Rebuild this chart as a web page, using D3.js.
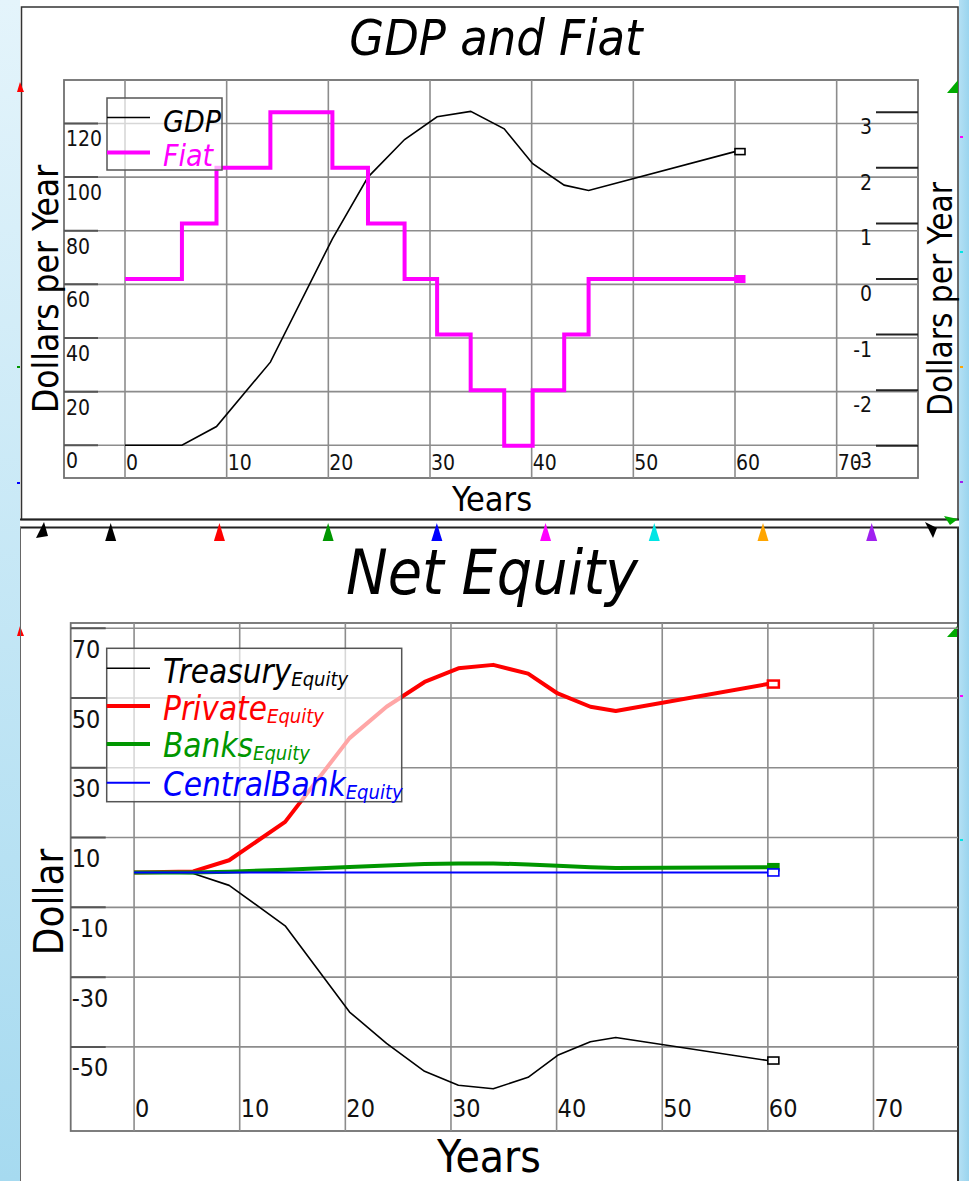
<!DOCTYPE html>
<html><head><meta charset="utf-8">
<script src="https://cdn.jsdelivr.net/npm/d3@7"></script>
<style>
html,body{margin:0;padding:0;background:#fff;}
svg{display:block;}
</style></head><body>
<svg id="c" width="969" height="1181"></svg>
<script>
// ---------- data ----------
const years = [0, 5.6, 9.0, 14.3, 20.4, 23.9, 27.5, 30.7, 34.0, 37.3, 40.1, 43.2, 45.6, 60];
const gdp = [0, 0, 7, 31, 77, 100, 114, 122.5, 124.5, 118, 105, 97, 95, 109.5];
const fiat = [0, 1, 2, 3, 2, 1, 0, -1, -2, -3, -2, -1, 0, 0];
const treasuryEquity = [0, -0.3, -3.7, -15.3, -40, -49, -57, -61, -62, -58.7, -52.4, -48.5, -47.3, -53.9];
const privateEquity = [0, 0.3, 3.5, 14.5, 38.5, 47.5, 54.6, 58.5, 59.5, 57, 51.3, 47.5, 46.3, 54.0];
const banksEquity = [0, 0, 0.2, 0.8, 1.6, 2.0, 2.4, 2.6, 2.6, 2.3, 1.9, 1.5, 1.3, 1.5];
const centralBankEquity = [0, 0, 0, 0, 0, 0, 0, 0, 0, 0, 0, 0, 0, 0];
const xTicks = [0, 10, 20, 30, 40, 50, 60, 70];
const gdpTicks = [0, 20, 40, 60, 80, 100, 120];
const fiatTicks = [-3, -2, -1, 0, 1, 2, 3];
const equityTicks = [70, 50, 30, 10, -10, -30, -50];
const equityNames = ["Treasury", "Private", "Banks", "CentralBank"];
const equityColors = ["#000000", "#ff0000", "#009600", "#0000ff"];
const equityWidths = [1.6, 4, 4, 2];
const markerColors = ["#000000", "#ff0000", "#009600", "#0000ff", "#ff00ff", "#00e5e5", "#ffa500", "#a020f0"];

const FONT = "'DejaVu Sans Condensed','DejaVu Sans',sans-serif";
const svg = d3.select("#c");

// ---------- background ----------
const defs = svg.append("defs");
const lg = defs.append("linearGradient").attr("id","bgL").attr("x1",0).attr("y1",0).attr("x2",0).attr("y2",1);
lg.append("stop").attr("offset",0).attr("stop-color","#e4f4fb");
lg.append("stop").attr("offset",1).attr("stop-color","#a6daf0");
const lgR = defs.append("linearGradient").attr("id","bgR").attr("x1",0).attr("y1",0).attr("x2",1).attr("y2",0);
lgR.append("stop").attr("offset",0).attr("stop-color","#b4e0f4");
lgR.append("stop").attr("offset",1).attr("stop-color","#9ad4ee");
svg.append("rect").attr("x",0).attr("y",0).attr("width",21).attr("height",1181).attr("fill","url(#bgL)");
svg.append("rect").attr("x",959).attr("y",0).attr("width",10).attr("height",1181).attr("fill","url(#bgR)");
svg.append("rect").attr("x",20).attr("y",0).attr("width",939).attr("height",1181).attr("fill","#ffffff");

const gridColor = "#8c8c8c";

// ================= TOP CHART =================
const T = {x0:64, x1:918, y0:80, y1:478};
const xT = d3.scaleLinear().domain([-6, 78]).range([T.x0, T.x1]);
const yL = d3.scaleLinear().domain([-12.2, 136.2]).range([T.y1, T.y0]);
const yR = d3.scaleLinear().domain([-3.58, 3.58]).range([T.y1, T.y0]);

// panel border
svg.append("rect").attr("x",21.5).attr("y",7).attr("width",936.5).attr("height",512.5)
  .attr("fill","none").attr("stroke","#333").attr("stroke-width",1.5);

const gT = svg.append("g");
gT.append("rect").attr("x",T.x0).attr("y",T.y0).attr("width",T.x1-T.x0).attr("height",T.y1-T.y0)
  .attr("fill","none").attr("stroke","#707070").attr("stroke-width",1.8);
gT.selectAll(".hg").data(gdpTicks).join("line")
  .attr("x1",T.x0).attr("x2",T.x1).attr("y1",d=>yL(d)).attr("y2",d=>yL(d))
  .attr("stroke",gridColor).attr("stroke-width",1.6);
gT.selectAll(".vg").data(xTicks).join("line")
  .attr("x1",d=>xT(d)).attr("x2",d=>xT(d)).attr("y1",T.y0).attr("y2",T.y1)
  .attr("stroke",gridColor).attr("stroke-width",1.6);
// left ticks
gT.selectAll(".lt").data(gdpTicks).join("line")
  .attr("x1",T.x0).attr("x2",T.x0+34).attr("y1",d=>yL(d)).attr("y2",d=>yL(d))
  .attr("stroke","#555").attr("stroke-width",2);
// right ticks
gT.selectAll(".rt").data(fiatTicks).join("line")
  .attr("x1",T.x1-42).attr("x2",T.x1).attr("y1",d=>yR(d)).attr("y2",d=>yR(d))
  .attr("stroke","#222").attr("stroke-width",2);
// labels
gT.selectAll(".ll").data(gdpTicks).join("text")
  .attr("x",T.x0+2).attr("y",d=>yL(d)+23).text(d=>d)
  .attr("font-family",FONT).attr("font-size",21).attr("fill","#111");
gT.selectAll(".rl").data(fiatTicks).join("text")
  .attr("x",872).attr("y",d=>yR(d)+22).attr("text-anchor","end").text(d=>d)
  .attr("font-family",FONT).attr("font-size",21).attr("fill","#111");
gT.selectAll(".xl").data(xTicks).join("text")
  .attr("x",d=>xT(d)+1).attr("y",470).text(d=>d)
  .attr("font-family",FONT).attr("font-size",21).attr("fill","#111");

// lines
const gdpPts = years.map((y,i)=>[y,gdp[i]]);
const fiatPts = years.map((y,i)=>[y,fiat[i]]);
gT.append("path").datum(gdpPts)
  .attr("d", d3.line().x(d=>xT(d[0])).y(d=>yL(d[1])))
  .attr("fill","none").attr("stroke","#000").attr("stroke-width",1.6);
gT.append("path").datum(fiatPts)
  .attr("d", d3.line().curve(d3.curveStepAfter).x(d=>xT(d[0])).y(d=>yR(d[1])))
  .attr("fill","none").attr("stroke","#ff00ff").attr("stroke-width",4);
// end markers
const lastI = years.length-1;
gT.append("rect").attr("x",xT(years[lastI])).attr("y",yL(gdp[lastI])-3).attr("width",10).attr("height",6)
  .attr("fill","#fff").attr("stroke","#000").attr("stroke-width",1.6);
gT.append("rect").attr("x",xT(years[lastI])).attr("y",yR(fiat[lastI])-3.5).attr("width",10).attr("height",7)
  .attr("fill","#ff00ff").attr("stroke","#ff00ff").attr("stroke-width",1);

// legend top
const legT = gT.append("g");
legT.append("rect").attr("x",107).attr("y",98).attr("width",115).attr("height",72)
  .attr("fill","#fff").attr("fill-opacity",0.65).attr("stroke","#555").attr("stroke-width",1.5);
legT.append("line").attr("x1",107).attr("x2",150).attr("y1",117.5).attr("y2",117.5).attr("stroke","#000").attr("stroke-width",1.6);
legT.append("line").attr("x1",107).attr("x2",150).attr("y1",152.5).attr("y2",152.5).attr("stroke","#ff00ff").attr("stroke-width",4);
legT.append("text").attr("x",163).attr("y",131.5).text("GDP").attr("font-family",FONT).attr("font-style","italic")
  .attr("font-size",30).attr("fill","#000");
legT.append("text").attr("x",163).attr("y",166).text("Fiat").attr("font-family",FONT).attr("font-style","italic")
  .attr("font-size",30).attr("fill","#ff00ff");

// titles
svg.append("text").attr("x",496).attr("y",55).attr("text-anchor","middle").text("GDP and Fiat")
  .attr("font-family",FONT).attr("font-style","italic").attr("font-size",50).attr("fill","#000");
svg.append("text").attr("x",492).attr("y",511).attr("text-anchor","middle").text("Years")
  .attr("font-family",FONT).attr("font-size",34).attr("fill","#000");
svg.append("text").attr("transform","translate(58,289) rotate(-90)").attr("text-anchor","middle").text("Dollars per Year")
  .attr("font-family",FONT).attr("font-size",35).attr("fill","#000");
svg.append("text").attr("transform","translate(952,299) rotate(-90)").attr("text-anchor","middle").text("Dollars per Year")
  .attr("font-family",FONT).attr("font-size",33).attr("fill","#000");

// ================= DIVIDER =================
svg.append("line").attr("x1",20).attr("x2",959).attr("y1",519.5).attr("y2",519.5).attr("stroke","#222").attr("stroke-width",2);
svg.append("line").attr("x1",20).attr("x2",959).attr("y1",527.5).attr("y2",527.5).attr("stroke","#222").attr("stroke-width",2);
const mx = d3.scaleLinear().domain([0,7]).range([110.7,871.7]);
svg.selectAll(".tri").data(markerColors).join("path")
  .attr("d",(c,i)=>`M${mx(i)},523 L${mx(i)-5.5},541 L${mx(i)+5.5},541 Z`)
  .attr("fill",c=>c);
// tilted corner arrows
svg.append("path").attr("d","M44,522 L36,538 L48,536 Z").attr("fill","#000");
svg.append("path").attr("d","M925,522 L933,538 L937,528 Z").attr("fill","#000");
svg.append("path").attr("d","M958,519 L944,516 L950,525 Z").attr("fill","#0a0");
svg.append("path").attr("d","M20,82 L24,92 L17,92 Z").attr("fill","#f00");
svg.append("path").attr("d","M958,80 L947,93 L958,93 Z").attr("fill","#0a0");
svg.append("path").attr("d","M20,626 L24,636 L17,636 Z").attr("fill","#f00");
svg.append("path").attr("d","M958,625 L947,637 L958,637 Z").attr("fill","#0a0");
const edgeDots = [[960,137,"#ff00ff"],[960,252,"#00e5e5"],[960,367,"#ffa500"],[960,482,"#a020f0"],
  [960,696,"#ff00ff"],[960,840,"#00e5e5"],[17,367,"#009600"],[17,483,"#0000ff"]];
svg.selectAll(".ed").data(edgeDots).join("rect")
  .attr("x",d=>d[0]).attr("y",d=>d[1]-1).attr("width",3).attr("height",2).attr("fill",d=>d[2]);

// ================= BOTTOM CHART =================
const B = {x0:70.7, x1:958, y0:623, y1:1131};
const xB = d3.scaleLinear().domain([-6, 78]).range([B.x0, B.x1]);
const yB = d3.scaleLinear().domain([-74.1, 71.5]).range([B.y1, B.y0]);

svg.append("line").attr("x1",20.5).attr("x2",20.5).attr("y1",527).attr("y2",1181).attr("stroke","#666").attr("stroke-width",1);

const gB = svg.append("g");
gB.append("rect").attr("x",B.x0).attr("y",B.y0).attr("width",B.x1-B.x0).attr("height",B.y1-B.y0)
  .attr("fill","none").attr("stroke","#707070").attr("stroke-width",1.8);
gB.append("line").attr("x1",B.x1).attr("x2",B.x1).attr("y1",527).attr("y2",1181).attr("stroke","#333").attr("stroke-width",2);
gB.selectAll(".hg").data(equityTicks).join("line")
  .attr("x1",B.x0).attr("x2",B.x1).attr("y1",d=>yB(d)).attr("y2",d=>yB(d))
  .attr("stroke",gridColor).attr("stroke-width",1.6);
gB.selectAll(".vg").data(xTicks).join("line")
  .attr("x1",d=>xB(d)).attr("x2",d=>xB(d)).attr("y1",B.y0).attr("y2",B.y1)
  .attr("stroke",gridColor).attr("stroke-width",1.6);
gB.selectAll(".lt").data(equityTicks).join("line")
  .attr("x1",B.x0).attr("x2",B.x0+35).attr("y1",d=>yB(d)).attr("y2",d=>yB(d))
  .attr("stroke","#555").attr("stroke-width",2);
gB.selectAll(".ll").data(equityTicks).join("text")
  .attr("x",B.x0+1).attr("y",d=>yB(d)+29.5).text(d=>d)
  .attr("font-family",FONT).attr("font-size",25).attr("fill","#111");
gB.selectAll(".xl").data(xTicks).join("text")
  .attr("x",d=>xB(d)+1).attr("y",1117).text(d=>d)
  .attr("font-family",FONT).attr("font-size",25).attr("fill","#111");

const series = [treasuryEquity, privateEquity, banksEquity, centralBankEquity];
series.forEach((s,k)=>{
  const pts = years.map((y,i)=>[y,s[i]]);
  gB.append("path").datum(pts).attr("d", d3.line().x(d=>xB(d[0])).y(d=>yB(d[1])))
    .attr("fill","none").attr("stroke",equityColors[k]).attr("stroke-width",equityWidths[k]).attr("stroke-linejoin","round");
});
series.forEach((s,k)=>{
  const filled = k===2;
  gB.append("rect").attr("x",xB(years[lastI])).attr("y",yB(s[lastI])-3.5).attr("width",11).attr("height",7)
    .attr("fill",filled?equityColors[k]:"#fff").attr("stroke",equityColors[k]).attr("stroke-width",k===1?2.5:1.6);
});

// legend bottom
const legB = gB.append("g");
legB.append("rect").attr("x",106.7).attr("y",648.3).attr("width",295).attr("height",153.4)
  .attr("fill","#fff").attr("fill-opacity",0.65).attr("stroke","#555").attr("stroke-width",1.5);
const legLineY = [668.3, 706, 744, 782.7];
const legTextY = [683.3, 720, 757.3, 796];
equityNames.forEach((n,k)=>{
  legB.append("line").attr("x1",106.7).attr("x2",150).attr("y1",legLineY[k]).attr("y2",legLineY[k])
    .attr("stroke",equityColors[k]).attr("stroke-width",equityWidths[k]);
  const t = legB.append("text").attr("x",163).attr("y",legTextY[k]).attr("font-family",FONT)
    .attr("font-style","italic").attr("fill",equityColors[k]);
  t.append("tspan").attr("font-size",33).text(n);
  t.append("tspan").attr("font-size",20).attr("dy",3).text("Equity");
});

svg.append("text").attr("x",492).attr("y",594).attr("text-anchor","middle").text("Net Equity")
  .attr("font-family",FONT).attr("font-style","italic").attr("font-size",62).attr("fill","#000");
svg.append("text").attr("x",489).attr("y",1172).attr("text-anchor","middle").text("Years")
  .attr("font-family",FONT).attr("font-size",44).attr("fill","#000");
svg.append("text").attr("transform","translate(63,902) rotate(-90)").attr("text-anchor","middle").text("Dollar")
  .attr("font-family",FONT).attr("font-size",40).attr("fill","#000");
</script>
</body></html>
